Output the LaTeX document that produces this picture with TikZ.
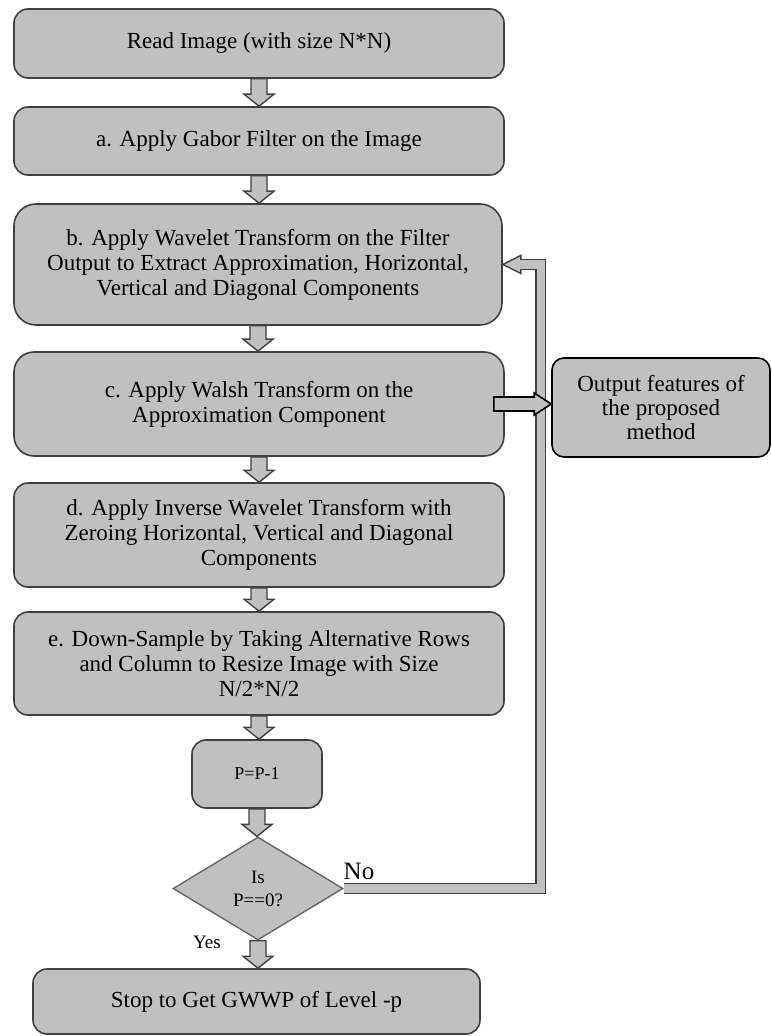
\documentclass[tikz,border=0pt]{standalone}
\usepackage{fontspec}
\setmainfont{Liberation Serif}
\usetikzlibrary{shapes.geometric,calc}
\definecolor{boxgray}{RGB}{192,192,192}
\definecolor{edgegray}{RGB}{64,64,64}
\tikzset{
  stepbox/.style={rectangle, rounded corners=7pt, draw=edgegray, line width=0.8pt, fill=boxgray,
    align=center, inner sep=2pt, font=\fontsize{11.5}{12.5}\selectfont},
  downarrow/.style={draw=edgegray, line width=0.7pt, fill=boxgray, line join=miter,
    to path={let \p1=(\tikztostart), \p2=(\tikztotarget) in
      (\x1-4pt,\y1) -- (\x1-4pt,\y2+6pt) -- (\x1-7.5pt,\y2+6pt) -- (\x1,\y2)
      -- (\x1+7.5pt,\y2+6pt) -- (\x1+4pt,\y2+6pt) -- (\x1+4pt,\y1) -- cycle}},
  rightarrow/.style={draw=black, line width=0.8pt, fill=boxgray, line join=miter,
    to path={let \p1=(\tikztostart), \p2=(\tikztotarget) in
      (\x1,\y1+3.5pt) -- (\x2-8.5pt,\y1+3.5pt) -- (\x2-8.5pt,\y1+5.5pt) -- (\x2,\y1)
      -- (\x2-8.5pt,\y1-5.5pt) -- (\x2-8.5pt,\y1-3.5pt) -- (\x1,\y1-3.5pt) -- cycle}},
  pipe/.style={line width=5.5pt, draw=edgegray, line join=miter,
    postaction={draw=boxgray, line width=4.2pt}},
  pipehead/.style={draw=edgegray, line width=0.7pt, fill=boxgray, line join=miter}
}
\begin{document}
\begin{tikzpicture}[x=0.5pt, y=-0.5pt]
  \useasboundingbox (0,0) rectangle (771,1036);

  % Boxes
  \node[stepbox, minimum width=245pt, minimum height=34.5pt] at (259,43.5) (read) {Read Image (with size N*N)};
  \node[stepbox, minimum width=245pt, minimum height=34pt] at (259,141) (gabor) {a. Apply Gabor Filter on the Image};
  \node[stepbox, rounded corners=11pt, minimum width=244pt, minimum height=60.5pt] at (258,264.5) (wave)
    {b. Apply Wavelet Transform on the Filter\\Output to Extract Approximation, Horizontal,\\Vertical and Diagonal Components};
  \node[stepbox, rounded corners=10pt, minimum width=245pt, minimum height=52pt] at (259,404) (walsh)
    {c. Apply Walsh Transform on the\\Approximation Component};
  \node[stepbox, minimum width=245pt, minimum height=52pt] at (259,535) (inverse)
    {d. Apply Inverse Wavelet Transform with\\Zeroing Horizontal, Vertical and Diagonal\\Components};
  \node[stepbox, minimum width=245pt, minimum height=51.5pt] at (259,663.5) (down)
    {e. Down-Sample by Taking Alternative Rows\\and Column to Resize Image with Size\\N/2*N/2};
  \node[stepbox, font=\fontsize{9}{10}\selectfont, minimum width=65pt, minimum height=34pt] at (257,774) (pp) {P=P-1};
  \node[diamond, draw=edgegray!80, line width=0.7pt, fill=boxgray, align=center, inner sep=0pt,
    font=\fontsize{9.5}{11.5}\selectfont, minimum width=85pt, minimum height=51.5pt] at (258,888.5) (dec) {Is\\P==0?};
  \node[stepbox, minimum width=223.5pt, minimum height=32.5pt] at (256.5,1001.5) (stop) {Stop to Get GWWP of Level -p};
  \node[stepbox, rounded corners=6pt, draw=black, font=\fontsize{11.5}{11.8}\selectfont,
    minimum width=109pt, minimum height=49.5pt] at (661,407.5) (out) {Output features of\\the proposed\\method};

  % Labels
  \node[font=\fontsize{12.5}{14}\selectfont, inner sep=0pt] at (359,871) (no) {No};
  \node[font=\fontsize{9.5}{11}\selectfont, inner sep=0pt] at (207,942) (yes) {Yes};

  % Arrows
  \draw[downarrow] (read.south) to (gabor.north);
  \draw[downarrow] (gabor.south) to (wave.north);
  \draw[downarrow] (wave.south) to (walsh.north);
  \draw[downarrow] (walsh.south) to (inverse.north);
  \draw[downarrow] (inverse.south) to (down.north);
  \draw[downarrow] (down.south) to (pp.north);
  \draw[downarrow] (pp.south) to (dec.north);
  \draw[downarrow] (dec.south) to (stop.north);

  % Loop back
  \coordinate (turn) at ([xshift=19pt]wave.east);
  \draw[pipehead] (wave.east) -- ++(9pt,4.5pt) -- ++(0,-9pt) -- cycle;
  \draw[pipe] (dec.east) -| (turn) -- ([xshift=8.6pt]wave.east);
  \draw[rightarrow] ([xshift=-5.5pt]walsh.east) to (out.west);
\end{tikzpicture}
\end{document}
